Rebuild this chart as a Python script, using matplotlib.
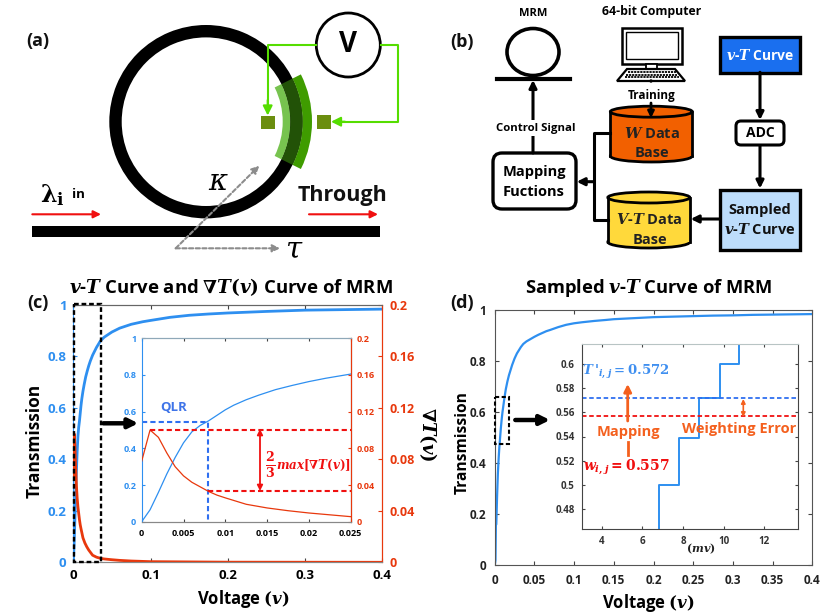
import matplotlib
matplotlib.use('Agg')
import matplotlib.pyplot as plt
from matplotlib.patches import Wedge, Circle, Ellipse, Rectangle, FancyBboxPatch, Polygon

plt.rcParams['font.family'] = ['Open Sans', 'DejaVu Sans']
plt.rcParams['font.weight'] = 'bold'
plt.rcParams['mathtext.fontset'] = 'dejavuserif'

W, H = 831, 615
BLUE = '#2E8FF0'
RED = '#E8380D'

# curve
volt = [0, 0.001, 0.002, 0.003, 0.004, 0.005, 0.006, 0.007, 0.008, 0.009, 0.01, 0.011, 0.0125, 0.014, 0.016,
        0.018, 0.02, 0.022, 0.025, 0.03, 0.035, 0.04, 0.05, 0.06, 0.075, 0.09, 0.1, 0.125, 0.15, 0.175, 0.2,
        0.25, 0.3, 0.35, 0.4]
trans = [0, 0.065, 0.16, 0.26, 0.35, 0.43, 0.49, 0.525, 0.55, 0.58, 0.61, 0.635, 0.665, 0.69, 0.72,
         0.743, 0.764, 0.782, 0.805, 0.835, 0.86, 0.875, 0.895, 0.91, 0.925, 0.935, 0.94, 0.952, 0.96, 0.965, 0.969,
         0.975, 0.98, 0.982, 0.984]
grad_volt = [0, 0.001, 0.002, 0.003, 0.004, 0.005, 0.006, 0.007, 0.008, 0.009, 0.01, 0.0125, 0.015, 0.0175,
             0.02, 0.0225, 0.025, 0.03, 0.035, 0.04, 0.05, 0.06, 0.075, 0.1, 0.2, 0.4]
grad = [0.066, 0.1, 0.092, 0.075, 0.06, 0.05, 0.043, 0.038, 0.033, 0.029, 0.026, 0.019, 0.015, 0.012,
        0.0095, 0.0075, 0.0055, 0.004, 0.0031, 0.0026, 0.002, 0.0015, 0.001, 0.0005, 0.0001, 0]

# sampled curve of panel (d)
samp_volt = [0, 0.001, 0.0015, 0.002, 0.003, 0.004, 0.005, 0.0058, 0.0068, 0.0078, 0.0088, 0.0098, 0.0107, 0.012,
             0.013, 0.014, 0.015, 0.016, 0.018, 0.02, 0.022, 0.025, 0.028, 0.03, 0.033, 0.036, 0.04, 0.045,
             0.05, 0.055, 0.06, 0.065, 0.07, 0.08, 0.09, 0.1, 0.11, 0.125, 0.14, 0.15, 0.175, 0.2, 0.225,
             0.25, 0.275, 0.3, 0.325, 0.35, 0.375, 0.4]
samp_trans = [0, 0.02, 0.16, 0.16, 0.27, 0.36, 0.42, 0.46, 0.50, 0.539, 0.572, 0.60, 0.62, 0.65,
              0.67, 0.69, 0.705, 0.72, 0.745, 0.765, 0.785, 0.81, 0.83, 0.84, 0.855, 0.867, 0.877, 0.886,
              0.895, 0.903, 0.91, 0.917, 0.922, 0.933, 0.942, 0.948, 0.952, 0.957, 0.961, 0.964, 0.968, 0.972, 0.974,
              0.976, 0.978, 0.979, 0.981, 0.982, 0.983, 0.984]

# zoomed steps in panel (d), in mV
step_mv = [6.8, 6.8, 7.8, 7.8, 8.8, 8.8, 9.8, 9.8, 10.75, 10.75]
step_t = [0.46, 0.50, 0.50, 0.539, 0.539, 0.572, 0.572, 0.60, 0.60, 0.62]


def px_axes(fig, x0, x1, y0, y1):
    return fig.add_axes([x0 / W, 1 - y1 / H, (x1 - x0) / W, (y1 - y0) / H])


def arrow(ax, p0, p1, color='black', lw=2.2, style='-|>', ls='-', ms=11):
    ax.annotate('', xy=p1, xytext=p0,
                arrowprops=dict(arrowstyle=style, color=color, lw=lw, ls=ls, mutation_scale=ms,
                                shrinkA=0, shrinkB=0))


fig = plt.figure(figsize=(W / 100, H / 100), dpi=100)

# panel (c)
ax_c = px_axes(fig, 73.3, 382.3, 305, 562.3)
ax_c.plot(volt, trans, color=BLUE, lw=2)
ax_c.set_xlim(0, 0.4)
ax_c.set_ylim(0, 1)
ax_c.set_xticks([0, 0.1, 0.2, 0.3, 0.4], ['0', '0.1', '0.2', '0.3', '0.4'])
ax_c.set_yticks([0, 0.2, 0.4, 0.6, 0.8, 1], ['0', '0.2', '0.4', '0.6', '0.8', '1'])
ax_c.tick_params(axis='x', direction='in', labelsize=9.5, length=3, color='#444444', pad=5, top=True)
ax_c.tick_params(axis='y', direction='in', labelsize=9.5, length=3, color=BLUE, labelcolor=BLUE, pad=5)
ax_c.set_title(r'$\boldsymbol{v}$-$\boldsymbol{T}$ Curve and $\boldsymbol{\nabla T(v)}$ Curve of MRM',
               fontsize=13.3, fontweight='bold', x=0.51, y=1.015)
ax_c.set_xlabel(r'Voltage $\boldsymbol{(v)}$', fontsize=12, fontweight='bold', labelpad=4, x=0.55)
ax_c.set_ylabel('Transmission', fontsize=12.5, fontweight='bold', labelpad=3, y=0.47)
ax_c.spines['left'].set_color(BLUE)
ax_c.spines['top'].set_color('#666666')
ax_c.spines['bottom'].set_color('#888888')
ax_c.spines['right'].set_color(RED)

ax_c2 = ax_c.twinx()
ax_c2.plot(grad_volt, grad, color=RED, lw=2)
ax_c2.set_ylim(0, 0.2)
ax_c2.set_yticks([0, 0.04, 0.08, 0.12, 0.16, 0.2], ['0', '0.04', '0.08', '0.12', '0.16', '0.2'])
ax_c2.tick_params(axis='y', direction='in', labelsize=9, length=3, color=RED, labelcolor=RED, pad=5)
ax_c2.spines['right'].set_color(RED)
ax_c2.spines['left'].set_visible(False)
ax_c2.spines['top'].set_color('#666666')
ax_c2.spines['bottom'].set_color('#888888')

# inset of (c)
in_c = px_axes(fig, 141.7, 350.7, 338.3, 521.7)
in_c.plot(volt, trans, color=BLUE, lw=0.9)
in_c.set_xlim(0, 0.025)
in_c.set_ylim(0, 1)
in_c.set_xticks([0, 0.005, 0.01, 0.015, 0.02, 0.025], ['0', '0.005', '0.01', '0.015', '0.02', '0.025'])
in_c.set_yticks([0, 0.2, 0.4, 0.6, 0.8, 1], ['0', '0.2', '0.4', '0.6', '0.8', '1'])
in_c.tick_params(axis='x', direction='in', labelsize=6.5, length=2, color='#444444', pad=5, top=True)
in_c.tick_params(axis='y', direction='in', labelsize=6.5, length=2, color=BLUE, labelcolor=BLUE, pad=4)
in_c.spines['left'].set_color(BLUE)
in_c.spines['top'].set_color('#8FA8B8')
in_c.spines['bottom'].set_color('#888888')
in_c.plot([0, 0.0079, 0.0079], [0.545, 0.545, 0], color='#2F6FF0', lw=1.5, ls=(0, (2.5, 1.5)))

in_c2 = in_c.twinx()
in_c2.plot(grad_volt, grad, color=RED, lw=0.9)
in_c2.set_ylim(0, 0.2)
in_c2.set_yticks([0, 0.04, 0.08, 0.12, 0.16, 0.2], ['0', '0.04', '0.08', '0.12', '0.16', '0.2'])
in_c2.tick_params(axis='y', direction='in', labelsize=6.5, length=2, color=RED, labelcolor=RED, pad=4)
in_c2.spines['right'].set_color(RED)
in_c2.spines['left'].set_visible(False)
in_c2.spines['top'].set_color('#8FA8B8')
in_c2.spines['bottom'].set_color('#888888')
in_c2.plot([0.001, 0.025], [0.1, 0.1], color='#F01010', lw=1.5, ls=(0, (2.5, 1.5)))
in_c2.plot([0.0079, 0.025], [0.033, 0.033], color='#F01010', lw=1.5, ls=(0, (2.5, 1.5)))
in_c2.set_xlim(0, 0.025)

# panel (d)
ax_d = px_axes(fig, 494.7, 812.3, 310, 565.3)
ax_d.plot(samp_volt, samp_trans, color=BLUE, lw=1.6)
ax_d.set_xlim(0, 0.4)
ax_d.set_ylim(0, 1)
ax_d.set_xticks([0, 0.05, 0.1, 0.15, 0.2, 0.25, 0.3, 0.35, 0.4],
                ['0', '0.05', '0.1', '0.15', '0.2', '0.25', '0.3', '0.35', '0.4'])
ax_d.set_yticks([0, 0.2, 0.4, 0.6, 0.8, 1], ['0', '0.2', '0.4', '0.6', '0.8', '1'])
ax_d.tick_params(direction='in', labelsize=8.5, length=3, color='#444444', labelcolor='#222222', pad=6,
                 top=True, right=True)
ax_d.set_title(r'Sampled $\boldsymbol{v}$-$\boldsymbol{T}$ Curve of MRM', fontsize=13.2, fontweight='bold',
               x=0.485, y=1.035)
ax_d.set_xlabel(r'Voltage $\boldsymbol{(v)}$', fontsize=12, fontweight='bold', labelpad=4, x=0.485)
ax_d.set_ylabel('Transmission', fontsize=11.2, fontweight='bold', labelpad=-1, y=0.48)
for s in ax_d.spines.values():
    s.set_color('#555555')

# inset of (d)
in_d = px_axes(fig, 581.7, 798.3, 344, 529)
in_d.plot(step_mv, step_t, color=BLUE, lw=1.4)
in_d.set_xlim(3.02, 13.67)
in_d.set_ylim(0.4634, 0.6166)
in_d.set_xticks([4, 6, 8, 10, 12], ['4', '6', '8', '10', '12'])
in_d.set_yticks([0.48, 0.5, 0.52, 0.54, 0.56, 0.58, 0.6], ['0.48', '0.5', '0.52', '0.54', '0.56', '0.58', '0.6'])
in_d.tick_params(direction='in', labelsize=7, length=2.5, color='#444444', labelcolor='#333333', pad=5,
                 top=True, right=True)
in_d.axhline(0.572, color='#2F6FF0', lw=1.3, ls=(0, (2.5, 1.5)))
in_d.axhline(0.557, color='#F01010', lw=1.3, ls=(0, (2.5, 1.5)))
for s in in_d.spines.values():
    s.set_color('#444444')
in_d.spines['top'].set_color('#B8C4C4')

# overlay in pixel coordinates for the schematics and annotations
ov = fig.add_axes([0, 0, 1, 1], zorder=10)
ov.set_xlim(0, W)
ov.set_ylim(H, 0)
ov.axis('off')
ov.patch.set_alpha(0)

for lab, x, y in [('(a)', 38, 41), ('(b)', 462, 42), ('(c)', 38, 303), ('(d)', 462, 303)]:
    ov.text(x, y, lab, fontsize=13, ha='center', va='center', color='#111111')

# (a) ring resonator
CX, CY = 206, 121.7
ov.add_patch(Wedge((CX, CY), 96.7, 0, 360, width=12.4, color='black', lw=0))
ov.add_patch(Wedge((CX, CY), 84.3, -26.5, 26.5, width=7.6, color='#77C34F', lw=0))
ov.add_patch(Wedge((CX, CY), 96.7, -26.5, 26.5, width=12.4, color='#225207', lw=0))
ov.add_patch(Wedge((CX, CY), 106, -26.5, 26.5, width=9.3, color='#3F9C00', lw=0))
ov.add_patch(Rectangle((32.3, 225.7), 347.7, 11.6, color='black', lw=0))
ov.add_patch(Rectangle((261.3, 115.7), 13.4, 13.4, color='#6B8E0F', lw=0))
ov.add_patch(Rectangle((316.7, 115), 14, 14.3, color='#6B8E0F', lw=0))
GREEN = '#55DD00'
ov.plot([316, 267.7, 267.7], [45, 45, 105], color=GREEN, lw=1.5)
ov.plot([380.7, 398.3, 398.3, 340], [45, 45, 121.7, 121.7], color=GREEN, lw=1.5)
arrow(ov, (267.7, 100), (267.7, 115.5), GREEN, 1.5, ms=14)
arrow(ov, (345, 121.7), (331, 121.7), GREEN, 1.5, ms=14)
ov.add_patch(Circle((348.3, 45), 32, fc='white', ec='black', lw=2))
ov.text(348.3, 45, 'V', fontsize=20, ha='center', va='center', color='black')
arrow(ov, (32.3, 214.3), (101, 214.3), '#F01010', 1.5, ms=11)
arrow(ov, (309, 214.3), (378, 214.3), '#F01010', 1.5, ms=11)
ov.text(52, 195, r'$\boldsymbol{\lambda}_{\mathrm{i}}$', fontsize=17, ha='center', va='center')
ov.text(78, 195, 'in', fontsize=9.5, ha='center', va='center')
ov.text(343, 196, 'Through', fontsize=15.5, ha='center', va='center', color='#111111')
arrow(ov, (175.7, 248.3), (259.3, 165.7), '#8C8C8C', 1.5, ls=(0, (2, 1.2)), ms=11)
arrow(ov, (175.7, 248.3), (280, 248.3), '#8C8C8C', 1.5, ls=(0, (2, 1.2)), ms=11)
ov.text(217.5, 182, 'κ', fontsize=21, ha='center', va='center', family='DejaVu Serif', style='italic',
        fontweight='normal')
ov.text(293, 249, 'τ', fontsize=21, ha='center', va='center', family='DejaVu Serif', style='italic',
        fontweight='normal')

# (b) system diagram
ov.text(533, 14, 'MRM', fontsize=8, ha='center', va='center')
ov.add_patch(Ellipse((533, 52), 52, 47, fc='white', ec='black', lw=2.6))
ov.plot([497, 570], [79, 79], color='black', lw=3)
arrow(ov, (533, 153), (533, 80), lw=2.2)
ov.text(536, 128, 'Control Signal', fontsize=8.2, ha='center', va='center',
        bbox=dict(fc='white', ec='none', pad=1.5))
ov.add_patch(FancyBboxPatch((497, 157), 75, 48, boxstyle='round,pad=4,rounding_size=9', fc='white', ec='black', lw=2.4))
ov.text(534, 172, 'Mapping', fontsize=10.5, ha='center', va='center')
ov.text(534, 192, 'Fuctions', fontsize=10.5, ha='center', va='center')

# computer icon
ov.text(652, 12, '64-bit Computer', fontsize=8.8, ha='center', va='center')
ov.add_patch(Rectangle((621.5, 27.5), 60, 36, fc='white', ec='black', lw=1.8))
ov.add_patch(Rectangle((625.5, 32), 52, 27, fc='white', ec='black', lw=1))
ov.add_patch(Rectangle((646, 64), 11, 5, fc='white', ec='black', lw=1.3))
ov.add_patch(Polygon([(627, 69), (675, 69), (685, 81), (617, 81)], fc='white', ec='black', lw=1.6))
for k in range(3):
    ov.plot([627 - k * 1.5 + 0.5, 675 + k * 1.5 + 0.5], [72 + k * 2.5] * 2, color='black', lw=1.3, ls=(0, (1.2, 0.5)))
ov.add_patch(Wedge((651, 81), 1, 0, 360, color='black'))

# data bases
for cx, top, bot, col in [(651.3, 111.7, 162, '#F26000'), (648.8, 197.5, 248, '#FFD93B')]:
    ov.add_patch(Ellipse((cx, bot - 6), 82, 12, fc=col, ec='black', lw=2, zorder=1))
    ov.add_patch(Rectangle((cx - 41, top), 82, bot - 6 - top, fc=col, ec='none', zorder=1.1))
    ov.plot([cx - 41, cx - 41], [top, bot - 6], color='black', lw=2, zorder=1.2)
    ov.plot([cx + 41, cx + 41], [top, bot - 6], color='black', lw=2, zorder=1.2)
    ov.add_patch(Ellipse((cx, top), 82, 11, fc=col, ec='black', lw=2, zorder=1.3))

ov.text(652, 95, 'Training', fontsize=8.5, ha='center', va='center',
        bbox=dict(fc='white', ec='none', pad=1))
arrow(ov, (651, 103), (651, 118), lw=2, ms=9)
ov.text(652, 133, r'$\boldsymbol{W}$ Data', fontsize=10.5, ha='center', va='center', color='#222222', zorder=3)
ov.text(652, 153, 'Base', fontsize=10.5, ha='center', va='center', color='#222222', zorder=3)
ov.text(649, 220, r'$\boldsymbol{V}$-$\boldsymbol{T}$ Data', fontsize=10.5, ha='center', va='center', color='#222222', zorder=3)
ov.text(650, 240, 'Base', fontsize=10.5, ha='center', va='center', color='#222222', zorder=3)
ov.plot([610, 594.3, 594.3, 607.7], [133.3, 133.3, 220, 220], color='black', lw=2.2)
arrow(ov, (594.3, 181.7), (576.7, 181.7), lw=2.2)

ov.add_patch(Rectangle((720, 36.5), 80, 36, fc='#1A6FEF', ec='black', lw=2.4))
ov.text(760, 55, r'$\boldsymbol{v}$-$\boldsymbol{T}$ Curve', fontsize=10, ha='center', va='center', color='white')
ov.add_patch(FancyBboxPatch((739, 124), 42, 18, boxstyle='round,pad=3,rounding_size=5', fc='white', ec='black', lw=2.2))
ov.text(760, 133, 'ADC', fontsize=10, ha='center', va='center')
ov.add_patch(Rectangle((720, 189.5), 80, 60, fc='#BDDDFB', ec='black', lw=2.4))
ov.text(760, 210, 'Sampled', fontsize=10.5, ha='center', va='center', color='#111111')
ov.text(760, 230, r'$\boldsymbol{v}$-$\boldsymbol{T}$ Curve', fontsize=10.5, ha='center', va='center', color='#111111')
arrow(ov, (760, 72.3), (760, 120), lw=2.2)
arrow(ov, (760, 145.7), (760, 188.5), lw=2.2)
arrow(ov, (719, 219), (690.7, 219), lw=2.2)

# annotations of (c)
ov.add_patch(Rectangle((74, 303.7), 27, 258.6, fc='none', ec='black', lw=1.7, ls=(0, (2, 1.2))))
arrow(ov, (103.3, 423.3), (138.3, 423.3), lw=3.2, ms=14)
ov.text(173.5, 407.7, 'QLR', fontsize=9.5, color='#3F74E8', ha='center', va='center')
arrow(ov, (260, 429), (260, 491), '#F01010', 1.3, '<|-|>', ms=8)
ov.text(270, 465, r'$\boldsymbol{\frac{2}{3}}$', fontsize=13, color='#F01010', ha='center', va='center')
ov.text(313, 465, r'$\boldsymbol{max[\nabla T(v)]}$', fontsize=8.6, color='#F01010', ha='center', va='center')
ov.text(428, 434, r'$\boldsymbol{\nabla T(v)}$', fontsize=13, rotation=-90, ha='center', va='center')

# annotations of (d)
ov.add_patch(Rectangle((495.3, 397), 14, 47, fc='none', ec='black', lw=1.5, ls=(0, (2, 1.2))))
arrow(ov, (515.3, 420), (550, 420), lw=3.2, ms=14)
ORANGE = '#F4601E'
arrow(ov, (627.7, 421), (627.7, 384), ORANGE, 2, ms=11)
ov.plot([627.7, 627.7], [441.5, 455], color=ORANGE, lw=2)
ov.text(628.5, 432.3, 'Mapping', fontsize=10.5, color=ORANGE, ha='center', va='center')
ov.text(739.5, 429.5, 'Weighting Error', fontsize=10.5, color=ORANGE, ha='center', va='center')
arrow(ov, (743.3, 399), (743.3, 417), ORANGE, 1.2, '<|-|>', ms=6)
ov.text(626, 371.5, r"$\boldsymbol{T}\,'_{\boldsymbol{i,j}}\boldsymbol{=0.572}$", fontsize=9.5, color='#3F8FF0',
        ha='center', va='center')
ov.text(626, 467.5, r'$\boldsymbol{w_{i,j}=0.557}$', fontsize=10, color='#F01010', ha='center', va='center')
ov.text(700.5, 549, r'$\boldsymbol{(mv)}$', fontsize=8, ha='center', va='center', color='#222222')

fig.savefig('out.png', dpi=100)
